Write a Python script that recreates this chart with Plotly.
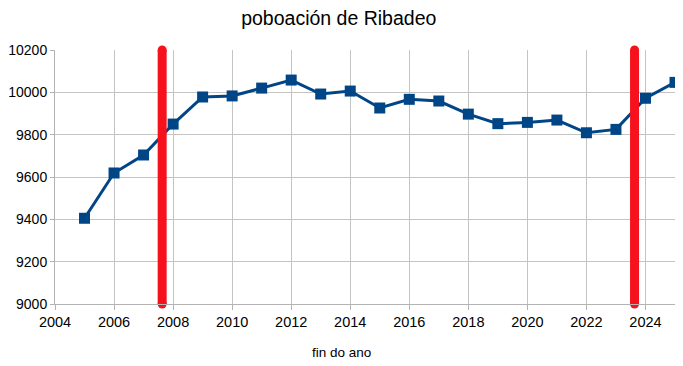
import plotly.graph_objects as go

years = list(range(2005, 2026))
population = [9405, 9619, 9704, 9850, 9978, 9983, 10020, 10058, 9992, 10006,
              9926, 9967, 9959, 9897, 9852, 9858, 9869, 9809, 9825, 9972, 10047]

x_ticks = list(range(2004, 2025, 2))
y_ticks = list(range(9000, 10201, 200))

# hand-drawn red vertical markers
marker_years = [2007.63, 2023.63]

fig = go.Figure()
fig.add_trace(go.Scatter(
    x=years, y=population, mode="lines+markers",
    line=dict(color="#004586", width=3),
    marker=dict(symbol="square", size=11, color="#004586"),
    showlegend=False, hoverinfo="x+y", cliponaxis=False,
))

for xm in marker_years:
    fig.add_trace(go.Scatter(
        x=[xm, xm], y=[9000, 10200], mode="lines",
        line=dict(color="#f5121c", width=9),
        showlegend=False, hoverinfo="skip", cliponaxis=False,
    ))
    fig.add_trace(go.Scatter(
        x=[xm, xm], y=[9000, 10200], mode="markers",
        marker=dict(symbol="circle", size=9, color="#f5121c", line=dict(width=0)),
        showlegend=False, hoverinfo="skip", cliponaxis=False,
    ))

fig.add_annotation(text="fin do ano", xref="paper", yref="paper",
                   x=0.462, y=-0.189, xanchor="center", yanchor="middle",
                   showarrow=False, font=dict(size=13.5))

fig.update_layout(
    width=675, height=358,
    margin=dict(l=47, r=8, t=42, b=62, autoexpand=False),
    paper_bgcolor="white", plot_bgcolor="white",
    font=dict(family="Liberation Sans, Arial, sans-serif", color="black", size=14),
    title=dict(text="poboación de Ribadeo", x=0.49, xanchor="center",
               y=0.972, yanchor="middle", font=dict(size=19.5), automargin=False),
    xaxis=dict(range=[2004, 2025], tickvals=x_ticks, ticktext=[str(v) for v in x_ticks],
               showgrid=True, automargin=False,
               gridcolor="#c4c4c4", gridwidth=1, ticks="outside", ticklen=5,
               tickcolor="#b3b3b3", showline=True, linecolor="#b3b3b3",
               mirror=False, zeroline=False, tickfont=dict(size=14.5)),
    yaxis=dict(range=[9000, 10200], tickvals=y_ticks, ticktext=[str(v) for v in y_ticks],
               showgrid=True, automargin=False,
               gridcolor="#c4c4c4", gridwidth=1, ticks="outside", ticklen=4,
               tickcolor="#b3b3b3", showline=True, linecolor="#b3b3b3",
               zeroline=False, tickfont=dict(size=14)),
)

fig.write_html("out.html")
